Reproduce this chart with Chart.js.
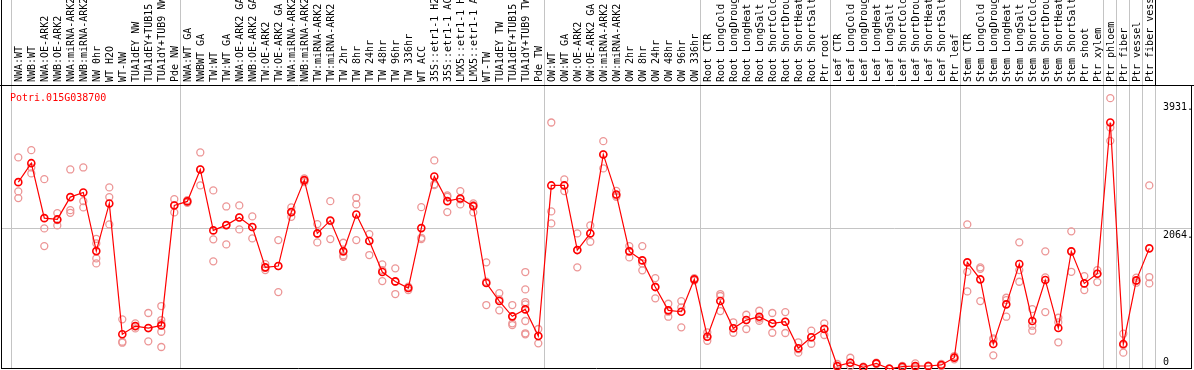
<!DOCTYPE html>
<html>
<head>
<meta charset="utf-8">
<script src="https://cdn.jsdelivr.net/npm/chart.js@4"></script>
<style>
  html, body { margin: 0; padding: 0; background: #fff; }
</style>
</head>
<body>
<canvas id="chart" width="1194" height="370"></canvas>
<script>
// gene shown in the panel
const geneId = 'Potri.015G038700';

const categories = [
  'NWA:WT', 'NWB:WT', 'NWA:OE-ARK2', 'NWB:OE-ARK2', 'NWA:miRNA-ARK2', 'NWB:miRNA-ARK2', 'NW 0hr', 'WT H2O', 'WT-NW',
  'TUA1dEY NW', 'TUA1dEY+TUB15 NW', 'TUA1dY+TUB9 NW', 'Pde NW',
  'NWA:WT GA', 'NWBWT GA', 'TW:WT', 'TW:WT GA', 'NWA:OE-ARK2 GA', 'NWB:OE-ARK2 GA', 'TW:OE-ARK2', 'TW:OE-ARK2 GA',
  'NWA:miRNA-ARK2', 'NWB:miRNA-ARK2', 'TW:miRNA-ARK2', 'TW:miRNA-ARK2', 'TW 2hr', 'TW 8hr', 'TW 24hr', 'TW 48hr',
  'TW 96hr', 'TW 336hr', 'WT ACC', '35S::etr1-1 H2O', '35S::etr1-1 ACC', 'LMX5::etr1-1 H2O', 'LMX5::etr1-1 ACC',
  'WT-TW', 'TUA1dEY TW', 'TUA1dEY+TUB15 TW', 'TUA1dY+TUB9 TW', 'Pde TW',
  'OW:WT', 'OW:WT GA', 'OW:OE-ARK2', 'OW:OE-ARK2 GA', 'OW:miRNA-ARK2', 'OW:miRNA-ARK2', 'OW 2hr', 'OW 8hr',
  'OW 24hr', 'OW 48hr', 'OW 96hr', 'OW 336hr',
  'Root CTR', 'Root LongCold', 'Root LongDrought', 'Root LongHeat', 'Root LongSalt', 'Root ShortCold',
  'Root ShortDrought', 'Root ShortHeat', 'Root ShortSalt', 'Ptr root',
  'Leaf CTR', 'Leaf LongCold', 'Leaf LongDrought', 'Leaf LongHeat', 'Leaf LongSalt', 'Leaf ShortCold',
  'Leaf ShortDrought', 'Leaf ShortHeat', 'Leaf ShortSalt', 'Ptr leaf',
  'Stem CTR', 'Stem LongCold', 'Stem LongDrought', 'Stem LongHeat', 'Stem LongSalt', 'Stem ShortCold',
  'Stem ShortDrought', 'Stem ShortHeat', 'Stem ShortSalt', 'Ptr shoot', 'Ptr xylem',
  'Ptr phloem', 'Ptr fiber', 'Ptr vessel', 'Ptr fiber vessel'
];

// how many categories in each experiment block (separated by grey lines)
const groupSizes = [13, 28, 12, 10, 10, 11, 1, 1, 1, 1];

const meanValues = [
  2737, 3015, 2210, 2191, 2518, 2586, 1727, 2425, 508, 629, 600, 639, 2396,
  2455, 2923, 2030, 2108, 2220, 2079, 1489, 1508, 2298, 2767, 1986, 2176, 1723, 2264, 1874, 1420,
  1283, 1186, 2064, 2820, 2459, 2498, 2386, 1259, 995, 771, 873, 483,
  2689, 2689, 1742, 1986, 3143, 2557, 1723, 1591, 1200, 859, 839, 1313,
  473, 995, 596, 717, 766, 669, 692, 303, 464, 586,
  44, 92, 25, 83, 4, 34, 44, 44, 59, 166,
  1562, 1313, 366, 947, 1537, 703, 1303, 600, 1723, 1254, 1395,
  3611, 366, 1298, 1767
];

const replicateValues = [
  [3099, 2601, 2503], [3206, 2952, 2865], [2781, 2059, 1800], [2284, 2103, 2181], [2923, 2327, 2288],
  [2952, 2459, 2367], [1907, 1840, 1620, 1547], [2660, 2518, 2118], [727, 400, 385], [669, 620, 595],
  [820, 596, 405], [922, 717, 669, 546, 322], [2488, 2294, 2401],
  [2474, 2455, 2435], [3172, 2923, 2689], [2616, 1899, 1577], [2381, 1825, 2108], [2396, 2045, 2220],
  [2235, 1913, 2079], [1537, 1449, 1480], [1888, 1127, 1508], [2367, 2229, 2298], [2791, 2757, 2737],
  [2123, 1854, 1981], [2459, 1903, 2166], [1849, 1664, 1644], [2508, 2411, 1888], [1976, 1669, 1878],
  [1533, 1288, 1449], [1474, 1098, 1278], [1205, 1186, 1156], [2371, 1903, 1922], [3055, 2708, 2693],
  [2543, 2298, 2523], [2606, 2411, 2484], [2425, 2294, 2401], [1562, 937, 1278], [1112, 859, 1020],
  [937, 669, 644, 766], [1420, 1166, 981, 947, 703, 523, 508], [586, 376, 483],
  [3611, 2308, 2133], [2777, 2606, 2689], [1489, 1986, 1742], [2103, 1864, 1986], [3337, 2938, 3143],
  [2610, 2522, 2540], [1800, 1635, 1730], [1800, 1445, 1547], [1332, 1035, 1205], [956, 766, 839],
  [995, 903, 610], [1330, 1313, 1296],
  [537, 414, 473], [1098, 1069, 849], [684, 531, 596], [795, 586, 717], [853, 707, 740],
  [820, 531, 669], [834, 527, 692], [391, 239, 290], [561, 370, 464], [669, 498, 590],
  [73, 34, 30], [165, 44, 92], [34, 5, 30], [92, 73, 85], [5, 2, 8],
  [44, 15, 40], [83, 25, 30], [50, 34, 44], [73, 44, 60], [190, 142, 166],
  [2118, 1424, 1137], [1489, 1468, 995], [449, 200, 434], [1044, 766, 1010], [1855, 1449, 1278],
  [878, 634, 561], [1723, 1342, 834], [751, 684, 391], [2016, 1424, 1723], [1361, 1156, 1254],
  [1449, 1274, 1395],
  [3967, 3538, 3342], [517, 239, 351], [1337, 1264, 1290], [2689, 1347, 1254]
];

const yTickValues = [0, 2064, 3931];
const yTickLabels = ['0', '2064.', '3931.'];
const gridValue = 2064;
const yMax = 4160;

const MONO = '"DejaVu Sans Mono", monospace';

// replicate points go in one dataset per replicate slot
const maxReps = Math.max(...replicateValues.map(r => r.length));
const repDatasets = [];
for (let k = 0; k < maxReps; k++) {
  repDatasets.push({
    label: 'rep' + (k + 1),
    data: replicateValues.map(r => (r[k] === undefined ? null : r[k])),
    showLine: false,
    pointStyle: 'circle',
    pointRadius: 3.5,
    pointBorderWidth: 1.3,
    pointBorderColor: 'rgb(236,150,150)',
    pointBackgroundColor: 'rgba(0,0,0,0)',
    clip: false
  });
}

const framePlugin = {
  id: 'frame',
  beforeDatasetsDraw(chart) {
    const { ctx, chartArea: a, scales } = chart;
    const xs = scales.x, ys = scales.y;
    ctx.save();
    ctx.lineWidth = 1;

    // grey block separators, running up through the label band
    let bounds = [0], n = 0;
    groupSizes.forEach(s => { n += s; bounds.push(n); });
    ctx.strokeStyle = '#c4c4c4';
    bounds.forEach((b, i) => {
      const px = Math.floor(xs.getPixelForValue(b - 0.5)) + 0.5;
      const last = i === bounds.length - 1;
      ctx.beginPath();
      ctx.moveTo(px, last ? a.top : 0);
      ctx.lineTo(px, a.bottom);
      ctx.stroke();
    });

    // single horizontal reference line
    const gy = Math.floor(ys.getPixelForValue(gridValue)) + 0.5;
    ctx.beginPath();
    ctx.moveTo(1, gy);
    ctx.lineTo(1192, gy);
    ctx.stroke();

    // black frame
    const endX = Math.floor(xs.getPixelForValue(categories.length - 0.5)) + 0.5;
    ctx.strokeStyle = '#000';
    ctx.beginPath();
    ctx.moveTo(0, Math.floor(a.top) + 0.5); ctx.lineTo(chart.width, Math.floor(a.top) + 0.5);
    ctx.moveTo(1.5, 0); ctx.lineTo(1.5, 369);
    ctx.moveTo(1, 368.5); ctx.lineTo(1192, 368.5);
    ctx.moveTo(1191.5, a.top); ctx.lineTo(1191.5, 369);
    ctx.moveTo(endX, 0); ctx.lineTo(endX, a.top);
    ctx.stroke();

    // value labels at the right
    ctx.font = '10px ' + MONO;
    ctx.fillStyle = '#000';
    ctx.textAlign = 'left';
    ctx.textBaseline = 'alphabetic';
    yTickValues.forEach((v, i) => {
      const py = ys.getPixelForValue(v);
      ctx.fillText(yTickLabels[i], 1163, v === 0 ? py - 4 : py + 9.5);
    });

    // gene id
    ctx.fillStyle = '#ff0000';
    ctx.fillText(geneId, 10, 101);
    ctx.restore();
  }
};

const ctx = document.getElementById('chart');

new Chart(ctx, {
  type: 'line',
  data: {
    labels: categories,
    datasets: [{
      label: geneId,
      data: meanValues,
      borderColor: '#ff0000',
      borderWidth: 1.2,
      tension: 0,
      pointStyle: 'circle',
      pointRadius: 3.5,
      pointBorderWidth: 1.6,
      pointBorderColor: '#ff0000',
      pointBackgroundColor: 'rgba(0,0,0,0)',
      clip: false
    }].concat(repDatasets)
  },
  options: {
    responsive: false,
    animation: false,
    devicePixelRatio: 1,
    events: [],
    layout: { autoPadding: false, padding: { left: 11.8, right: 0, top: 0, bottom: 1 } },
    plugins: {
      legend: { display: false },
      tooltip: { enabled: false },
      title: { display: false }
    },
    scales: {
      x: {
        type: 'category',
        position: 'top',
        offset: true,
        grid: { display: false, drawTicks: false },
        border: { display: false },
        ticks: {
          autoSkip: false,
          minRotation: 90,
          maxRotation: 90,
          padding: 3,
          labelOffset: 13,
          color: '#000',
          font: { family: MONO, size: 10 }
        },
        afterFit(axis) { axis.height = 85; }
      },
      y: {
        position: 'right',
        min: 0,
        max: yMax,
        grid: { display: false, drawTicks: false },
        border: { display: false },
        ticks: { display: false },
        afterBuildTicks(axis) { axis.ticks = yTickValues.map(v => ({ value: v })); },
        afterFit(axis) { axis.width = 38.2; }
      }
    }
  },
  plugins: [framePlugin]
});
</script>
</body>
</html>
